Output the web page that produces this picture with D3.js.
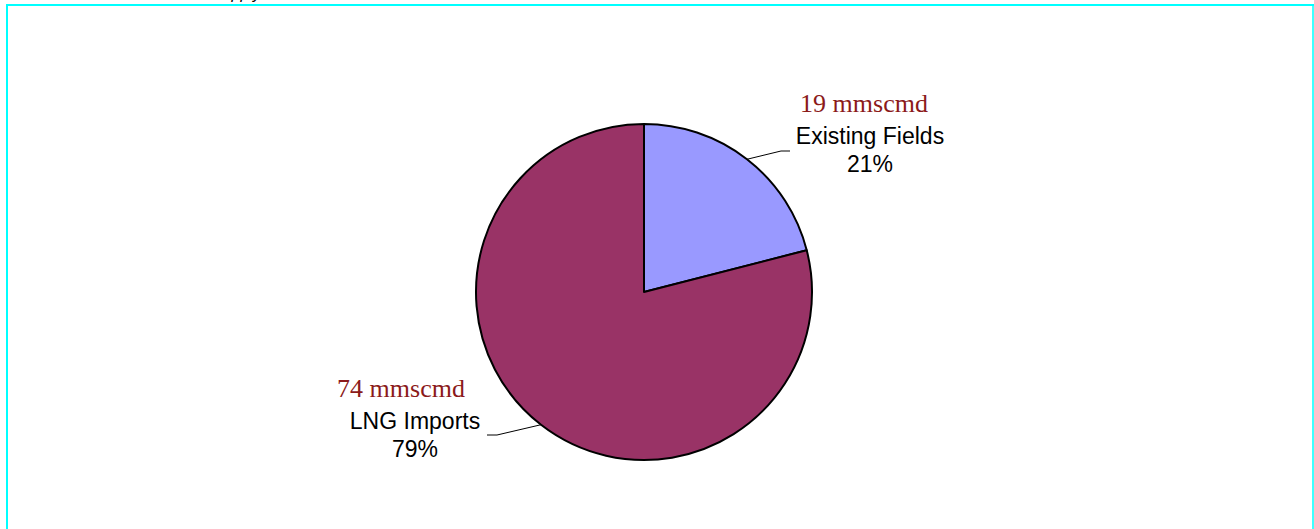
<!DOCTYPE html>
<html>
<head>
<meta charset="utf-8">
<script src="https://cdn.jsdelivr.net/npm/d3@7"></script>
<style>
  html, body { margin: 0; padding: 0; background: #ffffff; }
  svg { display: block; }
</style>
</head>
<body>
<svg id="chart" width="1314" height="529"></svg>
<script>
// ---- data ----
const categories = ["Existing Fields", "LNG Imports"];
const volumes = [19, 74];            // mmscmd
const percents = [21, 79];           // % share
const volumeUnit = "mmscmd";
const titleText = "Gas Supply";

// ---- layout ----
const svg = d3.select("#chart");
const W = 1314, H = 529;
const cx = 644, cy = 292, R = 168;
const colors = d3.scaleOrdinal().domain(categories).range(["#9999FF", "#993366"]);

// frame
svg.append("line").attr("x1", 7).attr("x2", 7).attr("y1", 4).attr("y2", H)
  .attr("stroke", "#00FFFF").attr("stroke-width", 2);
svg.append("line").attr("x1", 6).attr("x2", 1314).attr("y1", 5).attr("y2", 5)
  .attr("stroke", "#00FFFF").attr("stroke-width", 2);
svg.append("line").attr("x1", 1313).attr("x2", 1313).attr("y1", 4).attr("y2", H)
  .attr("stroke", "#00FFFF").attr("stroke-width", 1.5);

// cut-off title (only descenders visible)
svg.append("text").attr("x", 212).attr("y", -1)
  .attr("font-family", "Liberation Sans, Arial, sans-serif")
  .attr("font-style", "italic").attr("font-size", 16).attr("fill", "#000")
  .text(titleText.split(" ")[1]);

const data = categories.map((c, i) => ({ cat: c, vol: volumes[i], pct: percents[i] }));
const pie = d3.pie().value(d => d.pct).sort(null);
const arcs = pie(data);
const arc = d3.arc().innerRadius(0).outerRadius(R);

const g = svg.append("g").attr("transform", `translate(${cx},${cy})`);
g.selectAll("path").data(arcs).enter().append("path")
  .attr("d", arc)
  .attr("fill", d => colors(d.data.cat))
  .attr("stroke", "#000").attr("stroke-width", 2).attr("stroke-linejoin", "round");

// label placement (relative to center)
const labelPos = [
  { x: 226, y: -180, leader: [[104, -133], [137, -141], [146, -141]] },
  { x: -229, y: 105, leader: [[-104, 133], [-147, 143], [-157, 143]] }
];
const leaderAngle = arcs.map(a => (a.startAngle + a.endAngle) / 2);

arcs.forEach((a, i) => {
  const p = labelPos[i];
  // leader line starts on the arc edge at the slice's label anchor
  const ang = i === 0 ? 0.66 : Math.PI + 0.66;
  const sx = R * Math.sin(ang), sy = -R * Math.cos(ang);
  const pts = [[sx, sy], p.leader[1], p.leader[2]];
  g.append("path").attr("d", d3.line()(pts))
    .attr("fill", "none").attr("stroke", "#000").attr("stroke-width", 1);

  const dx = i === 0 ? 0 : 0;
  g.append("text").attr("x", p.x - 6 + (i === 1 ? -8 : 0)).attr("y", p.y)
    .attr("text-anchor", "middle")
    .attr("font-family", "Liberation Serif, Times New Roman, serif")
    .attr("font-size", 26).attr("fill", "#8B1A1A")
    .text(`${a.data.vol} ${volumeUnit}`);
  g.append("text").attr("x", p.x).attr("y", p.y + 32)
    .attr("text-anchor", "middle")
    .attr("font-family", "Liberation Sans, Arial, sans-serif")
    .attr("font-size", 23).attr("fill", "#000")
    .text(a.data.cat);
  g.append("text").attr("x", p.x).attr("y", p.y + 60)
    .attr("text-anchor", "middle")
    .attr("font-family", "Liberation Sans, Arial, sans-serif")
    .attr("font-size", 23).attr("fill", "#000")
    .text(`${a.data.pct}%`);
});
</script>
</body>
</html>
